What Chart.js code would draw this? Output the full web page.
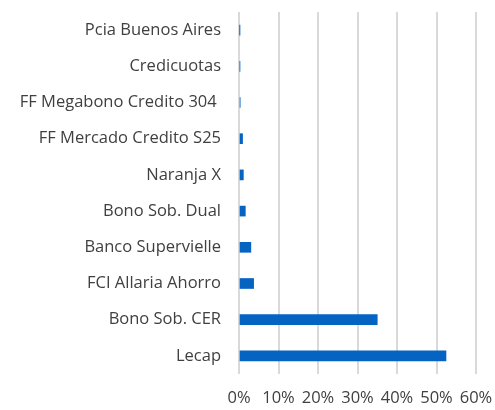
<!DOCTYPE html>
<html>
<head>
<meta charset="utf-8">
<script src="https://cdn.jsdelivr.net/npm/chart.js@4"></script>
<style>
  html, body { margin: 0; padding: 0; background: #fff; }
  #wrap { width: 495px; height: 410px; position: relative; }
</style>
</head>
<body>
<div id="wrap"><canvas id="myChart"></canvas></div>
<script>
// datos del grafico
var categories = ['Pcia Buenos Aires', 'Credicuotas', 'FF Megabono Credito 304 ', 'FF Mercado Credito S25',
    'Naranja X', 'Bono Sob. Dual', 'Banco Supervielle', 'FCI Allaria Ahorro', 'Bono Sob. CER', 'Lecap'];
var weights = [0.15, 0.2, 0.3, 0.9, 1.1, 1.6, 3.0, 3.7, 35.0, 52.4];
var xTicks = [0, 10, 20, 30, 40, 50, 60];

var ctx = document.getElementById('myChart');

// quitar el padding automatico de los ejes
function noPadding(scale) {
    scale.paddingTop = 0;
    scale.paddingBottom = 0;
    scale.paddingLeft = 0;
    scale.paddingRight = 0;
}

new Chart(ctx, {
    type: 'bar',
    data: {
        labels: categories,
        datasets: [{
            label: 'Cartera',
            data: weights,
            backgroundColor: '#0563C1',
            barThickness: 10
        }]
    },
    options: {
        indexAxis: 'y',
        responsive: true,
        maintainAspectRatio: false,
        animation: false,
        layout: { padding: { top: 12, right: 19, bottom: 2, left: 2 } },
        plugins: {
            legend: { display: false },
            tooltip: { enabled: false }
        },
        scales: {
            x: {
                min: xTicks[0],
                max: xTicks[xTicks.length - 1],
                afterBuildTicks: function (axis) {
                    axis.ticks = xTicks.map(function (v) { return { value: v }; });
                },
                afterFit: function (scale) {
                    noPadding(scale);
                    scale.height = 34;
                },
                grid: { color: '#D9D9D9', lineWidth: 2, drawTicks: false },
                border: { display: false },
                ticks: {
                    padding: 14,
                    color: '#404040',
                    font: { family: 'Open Sans', size: 16.5 },
                    maxRotation: 0,
                    callback: function (v) { return v + '%'; }
                }
            },
            y: {
                afterFit: noPadding,
                grid: { display: false, drawTicks: false },
                border: { display: false },
                ticks: {
                    padding: 18,
                    color: '#404040',
                    font: { family: 'Open Sans', size: 16.5 }
                }
            }
        }
    }
});
</script>
</body>
</html>
